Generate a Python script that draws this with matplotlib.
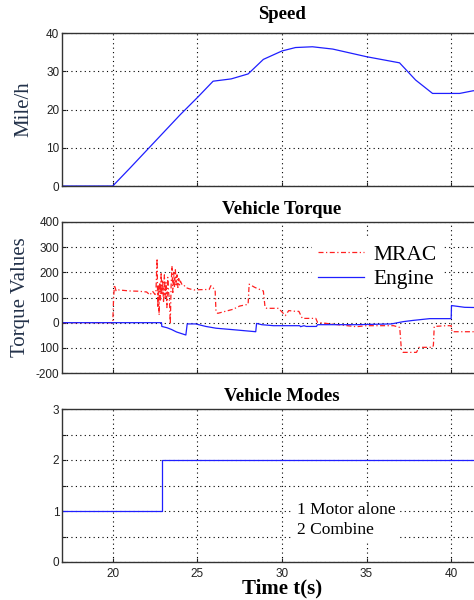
import matplotlib
matplotlib.use("Agg")
import matplotlib.pyplot as plt
import numpy as np

# ---- data ----
speed_t = [17.0, 20.0, 21.0, 22.0, 23.0, 24.0, 25.04, 25.93, 27.0, 28.0, 28.9, 30.0,
           30.8, 31.8, 33.0, 35.0, 36.95, 37.9, 38.9, 40.5, 41.3, 43.0]
speed_v = [0.0, 0.0, 4.6, 9.3, 14.0, 18.7, 23.3, 27.4, 28.0, 29.3, 33.1, 35.3,
           36.2, 36.4, 35.8, 33.8, 32.2, 27.7, 24.2, 24.2, 24.9, 25.0]

mrac_t = [17.0, 20.0, 20.05, 20.1, 20.2, 20.35, 21.0, 21.5, 22.0, 22.2, 22.35, 22.5,
          22.55, 22.62, 22.66, 22.7, 22.74, 22.78, 22.82, 22.86, 22.9, 22.95, 23.0,
          23.05, 23.1, 23.15, 23.2, 23.25, 23.3, 23.35, 23.4, 23.45, 23.5, 23.55,
          23.6, 23.65, 23.7, 23.75, 23.8, 23.85, 23.9, 23.95, 24.0, 24.1, 24.2,
          24.3, 24.5, 24.8, 25.1, 25.7, 25.8, 25.9, 26.05, 26.1, 26.2, 27.1, 27.5,
          28.0, 28.06, 28.4, 28.9, 29.0, 29.1, 29.8, 30.2, 30.4, 30.8, 31.0, 31.2,
          32.0, 32.1, 32.9, 34.4, 35.0, 36.6, 36.96, 37.06, 37.16, 37.95, 38.1,
          38.9, 38.95, 39.0, 39.7, 40.0, 40.05, 43.0]
mrac_v = [0, 0, 100, 150, 125, 130, 126, 125, 122, 110, 125, 112,
          120, 255, 60, 150, 30, 160, 90, 200, 110, 170, 80,
          190, 100, 160, 60, 180, 120, 90, -5, 150, 225, 120,
          200, 140, 210, 150, 190, 140, 175, 150, 165, 150, 150,
          140, 135, 130, 131, 132, 147, 140, 130, 45, 37, 53, 66,
          73, 153, 140, 126, 61, 57, 57, 28, 48, 45, 45, 17,
          17, 1, -5, -16, -12, -12, -19, -109, -118, -118, -98,
          -98, -90, -15, -12, -12, -36, -36]

engine_t = [17.0, 22.88, 22.9, 23.2, 23.47, 23.77, 24.32, 24.4, 24.9, 25.5, 26.1,
            27.3, 28.45, 28.5, 28.8, 29.5, 31.05, 31.1, 31.3, 31.44, 32.04, 32.1,
            34.4, 36.47, 37.16, 37.75, 38.73, 40.0, 40.02, 40.8, 43.0]
engine_v = [0, 0, -15, -20, -27, -37, -49, -5, -5, -15, -22,
            -29, -36, -3, -8, -12, -12, -16, -12, -15, -15, -8,
            -8, -5, 4, 9, 16, 16, 68, 61, 58]

mode_t = [17.0, 22.9, 22.9, 43.0]
mode_v = [1, 1, 2, 2]

x_ticks = [20, 25, 30, 35, 40]
speed_ticks = [0, 10, 20, 30, 40]
torque_ticks = [-200, -100, 0, 100, 200, 300, 400]
torque_labels = ["-200", "100", "0", "100", "200", "300", "400"]
mode_ticks = [0, 0.5, 1, 1.5, 2, 2.5, 3]
mode_labels = ["0", "", "1", "", "2", "", "3"]

# ---- styling ----
serif = ["Liberation Serif", "DejaVu Serif"]
sans = ["Liberation Sans", "DejaVu Sans"]
label_color = "#23324a"
blue = "#1f1fff"
red = "#ff2020"

fig = plt.figure(figsize=(4.74, 6.0), dpi=100)

left = 62 / 474
width = 26 * 16.92 / 474
boxes = [(33, 186), (222, 373), (409, 562)]


def make_axes(top_px, bot_px):
    ax = fig.add_axes([left, 1 - bot_px / 600, width, (bot_px - top_px) / 600])
    ax.set_xlim(17, 43)
    ax.set_xticks(x_ticks)
    ax.tick_params(direction="in", length=3, width=0.8, labelsize=8.5,
                   colors="#222222", pad=2)
    ax.tick_params(axis="x", pad=4)
    ax.grid(True, linestyle=(0, (1, 3)), color="black", linewidth=0.8)
    for s in ax.spines.values():
        s.set_color("#333333")
        s.set_linewidth(1.0)
    return ax


title_kw = dict(family=serif, fontweight="bold", fontsize=13.5)
ylab_kw = dict(family=serif, fontsize=15, color=label_color)

# Speed
ax1 = make_axes(*boxes[0])
ax1.plot(speed_t, speed_v, color=blue, linewidth=0.9)
ax1.set_ylim(0, 40)
ax1.set_yticks(speed_ticks)
ax1.set_yticklabels([str(v) for v in speed_ticks], family=sans)
ax1.set_xticklabels([])
ax1.set_title("Speed", pad=10, **title_kw)
ax1.set_ylabel("Mile/h", labelpad=9, **ylab_kw)

# Torque
ax2 = make_axes(*boxes[1])
ax2.plot(mrac_t, mrac_v, color=red, linewidth=0.9, linestyle=(0, (4, 2, 1, 2)),
         label="MRAC")
ax2.plot(engine_t, engine_v, color=blue, linewidth=0.9, label="Engine")
ax2.set_ylim(-200, 400)
ax2.set_yticks(torque_ticks)
ax2.set_yticklabels(torque_labels, family=sans)
ax2.set_xticklabels([])
ax2.set_title("Vehicle Torque", pad=6, **title_kw)
ax2.set_ylabel("Torque Values", labelpad=4, **ylab_kw)
leg = ax2.legend(loc="upper left", bbox_to_anchor=(0.568, 0.893), frameon=True,
                 fancybox=False, edgecolor="white", facecolor="white", framealpha=1,
                 borderaxespad=0, borderpad=0.3, handlelength=2.1, handletextpad=0.45,
                 labelspacing=0.2, prop={"family": serif, "size": 15.5})

# Modes
ax3 = make_axes(*boxes[2])
ax3.plot(mode_t, mode_v, color=blue, linewidth=0.9)
ax3.set_ylim(0, 3)
ax3.set_yticks(mode_ticks)
ax3.set_yticklabels(mode_labels, family=sans)
ax3.set_xticklabels([str(v) for v in x_ticks], family=sans)
ax3.set_title("Vehicle Modes", pad=6, **title_kw)
ax3.set_xlabel("Time t(s)", family=serif, fontweight="bold", fontsize=15, labelpad=-1)
ax3.text(30.9, 0.82, "1 Motor alone\n2 Combine", family=serif, fontsize=12.5,
         va="center", ha="left", linespacing=1.3,
         bbox=dict(facecolor="white", edgecolor="none", pad=3))

fig.savefig("out.png", dpi=100)
